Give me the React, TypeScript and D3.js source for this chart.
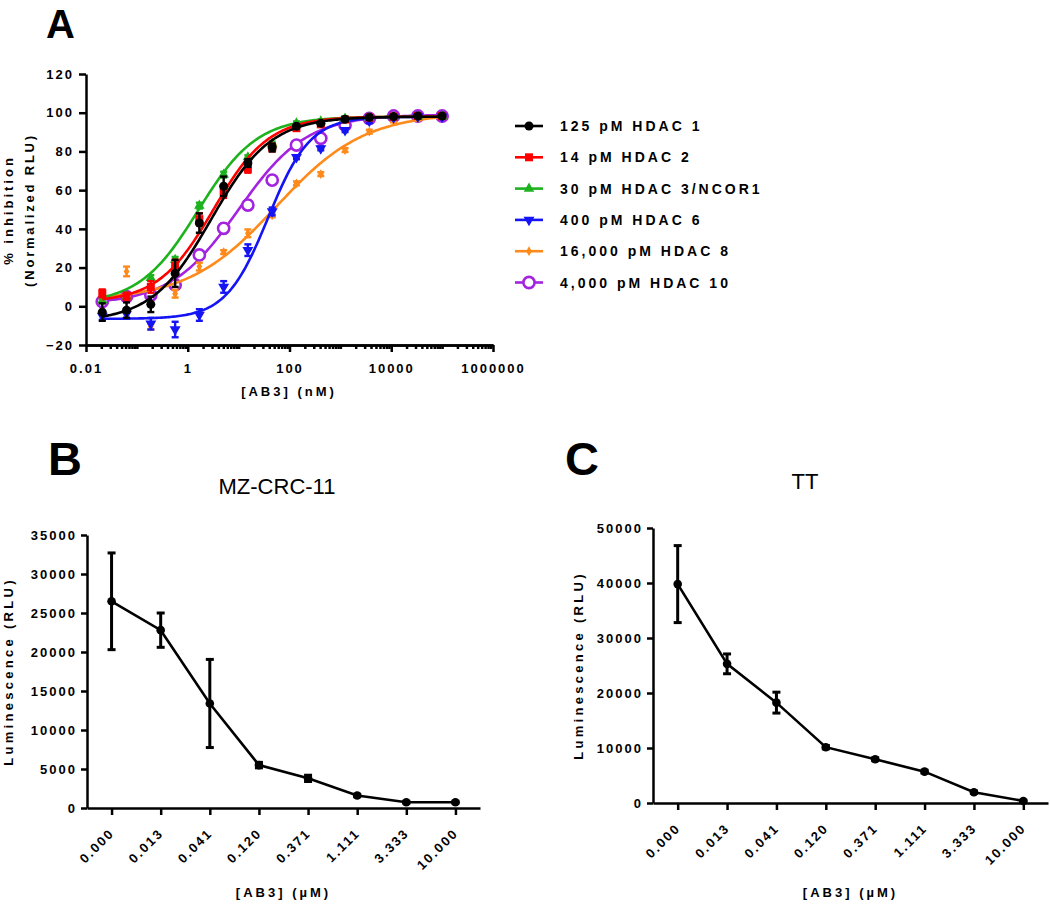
import React, { useEffect, useRef } from "react";
import * as d3 from "d3";

// ---- Panel A: HDAC inhibition, 3-fold dilutions of AB3 (nM)
const concNM = [0.0209, 0.0627, 0.188, 0.565, 1.69, 5.08, 15.2, 45.7, 137, 412, 1235, 3704, 11111, 33333, 100000];

const seriesNames = ["125 pM HDAC 1", "14 pM HDAC 2", "30 pM HDAC 3/NCOR1", "400 pM HDAC 6", "16,000 pM HDAC 8", "4,000 pM HDAC 10"];
const seriesColors = ["#000000", "#ff0000", "#1fb21f", "#1414f5", "#ff8a1c", "#a423df"];
const seriesShapes = ["circle", "square", "triangle", "triangleDown", "diamond", "ring"];

const hdac1 = [-3, -2, 1, 17, 43, 62, 74, 82, 93, 94.5, 96.6, 97.6, 98, 98.3, 98.3];
const hdac1Err = [4.5, 4, 4, 7, 5, 5, 2, 2, 1, 1, 1, 1, 0.5, 0.5, 0.5];
const hdac2 = [6.7, 5, 10, 21, 45, 59, 71, 82, 92, 94, 96.5, 97.5, 98, 98.3, 98.3];
const hdac2Err = [2, 2, 3, 3, 3, 3, 2, 2, 1, 1, 1, 1, 1, 1, 1];
const hdac3 = [3, 5, 14.6, 24, 52, 68, 77, 84, 94.5, 95.5, 97, 97.5, 98, 98, 98];
const hdac3Err = [1, 1, 1.5, 1.5, 1.5, 1.5, 1, 1, 1, 1, 1, 1, 1, 1, 1];
const hdac6 = [-5, -4, -9, -12, -4.5, 10, 29, 49, 77, 81.6, 91, 95.7, 97.5, 98, 98];
const hdac6Err = [2, 2, 3, 4, 3, 3, 3, 2, 1, 1, 1, 1, 1, 1, 1];
const hdac8 = [3, 18, -10.5, 6.5, 20.5, 28, 37.7, 47, 63.5, 68.3, 80.7, 90.2, 96, 97, 98];
const hdac8Err = [1, 2.5, 1.5, 2, 2, 1, 2, 1, 1, 1, 1, 1, 1, 1, 1];
const hdac10 = [2.4, 5, 5.8, 11, 26.5, 40.3, 52.3, 65.2, 83.3, 86.8, 93.6, 97, 98.3, 98.3, 98.3];
const hdac10Err = [1, 1, 1, 2, 2.5, 2.5, 2.5, 2, 1, 1, 1, 1, 1, 1, 1];

// four-parameter logistic fit, one entry per series
const fitBottom = [-8, 2, 1, -6.5, 3, 1];
const fitTop = [98, 98, 98, 98, 100, 99];
const fitIC50 = [2.9, 3.2, 1.6, 38, 55, 10];
const fitHill = [0.74, 0.8, 0.75, 1.05, 0.5, 0.65];

const xTicksA = [0.01, 1, 100, 10000, 1000000];
const yTicksA = [-20, 0, 20, 40, 60, 80, 100, 120];

// ---- Panels B and C: luminescence vs AB3 (uM)
const doseLabels = ["0.000", "0.013", "0.041", "0.120", "0.371", "1.111", "3.333", "10.000"];
const mzMean = [26500, 22800, 13400, 5500, 3800, 1600, 730, 730];
const mzErr = [6200, 2200, 5650, 350, 400, 150, 100, 100];
const ttMean = [39800, 25300, 18250, 10150, 7950, 5700, 1950, 370];
const ttErr = [7000, 1800, 1900, 300, 250, 250, 200, 150];
const mzTicks = [0, 5000, 10000, 15000, 20000, 25000, 30000, 35000];
const ttTicks = [0, 10000, 20000, 30000, 40000, 50000];

const FONT = '"Liberation Sans", Arial, Helvetica, sans-serif';

function styleAxis(sel: any, width: number) {
  sel.select(".domain").attr("stroke", "#000").attr("stroke-width", width);
  sel.selectAll(".tick line").attr("stroke", "#000").attr("stroke-width", width);
  sel.selectAll(".tick text")
    .attr("fill", "#000")
    .style("font-family", FONT)
    .style("font-size", "13px")
    .style("font-weight", "bold")
    .style("letter-spacing", "2px");
}

function marker(g: any, shape: string, color: string, x: number, y: number) {
  if (shape === "ring") {
    g.append("circle").attr("cx", x).attr("cy", y).attr("r", 5.6)
      .attr("fill", "#fff").attr("stroke", color).attr("stroke-width", 2.6);
    return;
  }
  var sym = d3.symbolCircle, size = 64, rot = 0;
  if (shape === "square") { sym = d3.symbolSquare; size = 64; }
  if (shape === "triangle") { sym = d3.symbolTriangle; size = 48; }
  if (shape === "triangleDown") { sym = d3.symbolTriangle; size = 52; rot = 180; }
  if (shape === "diamond") { sym = d3.symbolDiamond; size = 28; }
  g.append("path")
    .attr("d", d3.symbol().type(sym).size(size)())
    .attr("transform", `translate(${x},${y}) rotate(${rot})`)
    .attr("fill", color);
}

function errorBar(g: any, x: number, y0: number, y1: number, cap: number, color: string, w: number) {
  g.append("line").attr("x1", x).attr("x2", x).attr("y1", y0).attr("y2", y1)
    .attr("stroke", color).attr("stroke-width", w);
  [y0, y1].forEach((yy) => {
    g.append("line").attr("x1", x - cap / 2).attr("x2", x + cap / 2).attr("y1", yy).attr("y2", yy)
      .attr("stroke", color).attr("stroke-width", w);
  });
}

function drawPanelA(svg: any) {
  const x = d3.scaleLog().domain([0.01, 1000000]).range([86, 493]);
  const y = d3.scaleLinear().domain([-20, 120]).range([345, 74]);
  const g = svg.append("g");

  const values = [hdac1, hdac2, hdac3, hdac6, hdac8, hdac10];
  const errs = [hdac1Err, hdac2Err, hdac3Err, hdac6Err, hdac8Err, hdac10Err];

  // y axis
  const ya = g.append("g").attr("transform", "translate(86,0)")
    .call(d3.axisLeft(y).tickValues(yTicksA).tickSize(7).tickPadding(5).tickSizeOuter(0));
  styleAxis(ya, 2.5);

  // x axis: minor log ticks, then labelled majors
  const minors: number[] = [];
  for (let e = -2; e < 6; e++) {
    for (let m = 2; m <= 10; m++) {
      const v = m * Math.pow(10, e);
      if (!xTicksA.some((t) => Math.abs(Math.log10(t) - Math.log10(v)) < 1e-6)) minors.push(v);
    }
  }
  const xm = g.append("g").attr("transform", "translate(0,345)")
    .call(d3.axisBottom(x).tickValues(minors).tickSize(4).tickFormat(() => "").tickSizeOuter(0));
  styleAxis(xm, 2.5);
  const xa = g.append("g").attr("transform", "translate(0,345)")
    .call(d3.axisBottom(x).tickValues(xTicksA).tickSize(7).tickPadding(12).tickSizeOuter(0)
      .tickFormat((d: any) => String(d)));
  styleAxis(xa, 2.5);

  // axis titles
  g.append("text").attr("x", 289).attr("y", 396).attr("text-anchor", "middle")
    .style("font-family", FONT).style("font-size", "13px").style("font-weight", "bold")
    .style("letter-spacing", "3px").text("[AB3] (nM)");
  g.append("text").attr("transform", "translate(13,210) rotate(-90)").attr("text-anchor", "middle")
    .style("font-family", FONT).style("font-size", "13px").style("font-weight", "bold")
    .style("letter-spacing", "3px").text("% inhibition");
  g.append("text").attr("transform", "translate(34,210) rotate(-90)").attr("text-anchor", "middle")
    .style("font-family", FONT).style("font-size", "13px").style("font-weight", "bold")
    .style("letter-spacing", "2.8px").text("(Normalized RLU)");

  // fitted curves
  const lo = Math.log10(concNM[0]), hi = Math.log10(concNM[concNM.length - 1]);
  const samples = d3.range(0, 201).map((i) => Math.pow(10, lo + ((hi - lo) * i) / 200));
  const line = d3.line<number[]>().x((d) => x(d[0])).y((d) => y(d[1]));

  // drawn last series first so HDAC 1 sits on top
  for (let i = seriesNames.length - 1; i >= 0; i--) {
    const col = seriesColors[i];
    const sg = g.append("g");
    const pts = samples.map((c) => [c, fitBottom[i] + (fitTop[i] - fitBottom[i]) / (1 + Math.pow(fitIC50[i] / c, fitHill[i]))]);
    sg.append("path").attr("d", line(pts)).attr("fill", "none").attr("stroke", col).attr("stroke-width", 2.6);
    concNM.forEach((c, k) => {
      const v = values[i][k], e = errs[i][k];
      errorBar(sg, x(c), y(v - e), y(v + e), 7, col, 2.4);
      marker(sg, seriesShapes[i], col, x(c), y(v));
    });
  }

  // legend
  seriesNames.forEach((name, i) => {
    const ly = 126 + i * 31.3;
    const lg = g.append("g");
    lg.append("line").attr("x1", 515).attr("x2", 543).attr("y1", ly).attr("y2", ly)
      .attr("stroke", seriesColors[i]).attr("stroke-width", 2.6);
    marker(lg, seriesShapes[i], seriesColors[i], 529, ly);
    lg.append("text").attr("x", 560).attr("y", ly + 5)
      .style("font-family", FONT).style("font-size", "14px").style("font-weight", "bold")
      .style("letter-spacing", "3px").text(name);
  });

  g.append("text").attr("x", 46).attr("y", 38)
    .style("font-family", FONT).style("font-size", "40px").style("font-weight", "bold").text("A");
}

function drawDosePanel(svg: any, o: any) {
  const x = d3.scalePoint().domain(doseLabels).range([o.x0, o.x1]).padding(0.5);
  const y = d3.scaleLinear().domain([0, o.ymax]).range([o.yBottom, o.yTop]);
  const g = svg.append("g");

  const ya = g.append("g").attr("transform", `translate(${o.x0},0)`)
    .call(d3.axisLeft(y).tickValues(o.ticks).tickSize(6).tickPadding(4).tickSizeOuter(0).tickFormat(d3.format("d")));
  styleAxis(ya, 2.5);

  const xa = g.append("g").attr("transform", `translate(0,${o.yBottom})`)
    .call(d3.axisBottom(x).tickSize(7).tickSizeOuter(0));
  styleAxis(xa, 2.5);
  xa.selectAll(".tick text")
    .attr("y", 0).attr("dy", 0)
    .attr("text-anchor", "end")
    .attr("transform", "translate(3,26) rotate(-45)");

  const line = d3.line<number>().x((d, i) => x(doseLabels[i]) as number).y((d) => y(d));
  g.append("path").attr("d", line(o.mean)).attr("fill", "none").attr("stroke", "#000").attr("stroke-width", 2.6);
  o.mean.forEach((v: number, i: number) => {
    const px = x(doseLabels[i]) as number;
    errorBar(g, px, y(v - o.err[i]), y(v + o.err[i]), 8, "#000", 3);
    g.append("circle").attr("cx", px).attr("cy", y(v)).attr("r", 4.3).attr("fill", "#000");
  });

  g.append("text").attr("transform", `translate(${o.yLabelX},${(o.yTop + o.yBottom) / 2}) rotate(-90)`)
    .attr("text-anchor", "middle")
    .style("font-family", FONT).style("font-size", "13px").style("font-weight", "bold")
    .style("letter-spacing", "3.3px").text("Luminescence (RLU)");
  g.append("text").attr("x", (o.x0 + o.x1) / 2).attr("y", 897).attr("text-anchor", "middle")
    .style("font-family", FONT).style("font-size", "13px").style("font-weight", "bold")
    .style("letter-spacing", "3px").text("[AB3] (\u00b5M)");
  g.append("text").attr("x", o.titleX).attr("y", o.titleY).attr("text-anchor", "middle")
    .style("font-family", FONT).style("font-size", "22px").text(o.title);
  g.append("text").attr("x", o.letterX).attr("y", 475)
    .style("font-family", FONT).style("font-size", "47px").style("font-weight", "bold").text(o.letter);
}

export default function App() {
  const ref = useRef<SVGSVGElement>(null);
  useEffect(() => {
    const svg = d3.select(ref.current);
    svg.selectAll("*").remove();
    drawPanelA(svg);
    drawDosePanel(svg, {
      x0: 87, x1: 480, yTop: 535, yBottom: 808, ymax: 35000, ticks: mzTicks,
      mean: mzMean, err: mzErr, title: "MZ-CRC-11", titleX: 277, titleY: 494,
      yLabelX: 13, letter: "B", letterX: 48,
    });
    drawDosePanel(svg, {
      x0: 653, x1: 1048, yTop: 528, yBottom: 803, ymax: 50000, ticks: ttTicks,
      mean: ttMean, err: ttErr, title: "TT", titleX: 805, titleY: 489,
      yLabelX: 583, letter: "C", letterX: 565,
    });
  }, []);
  return (
    <svg ref={ref} width={1050} height={909}
      style={{ position: "absolute", left: 0, top: 0, background: "#fff" }} />
  );
}
